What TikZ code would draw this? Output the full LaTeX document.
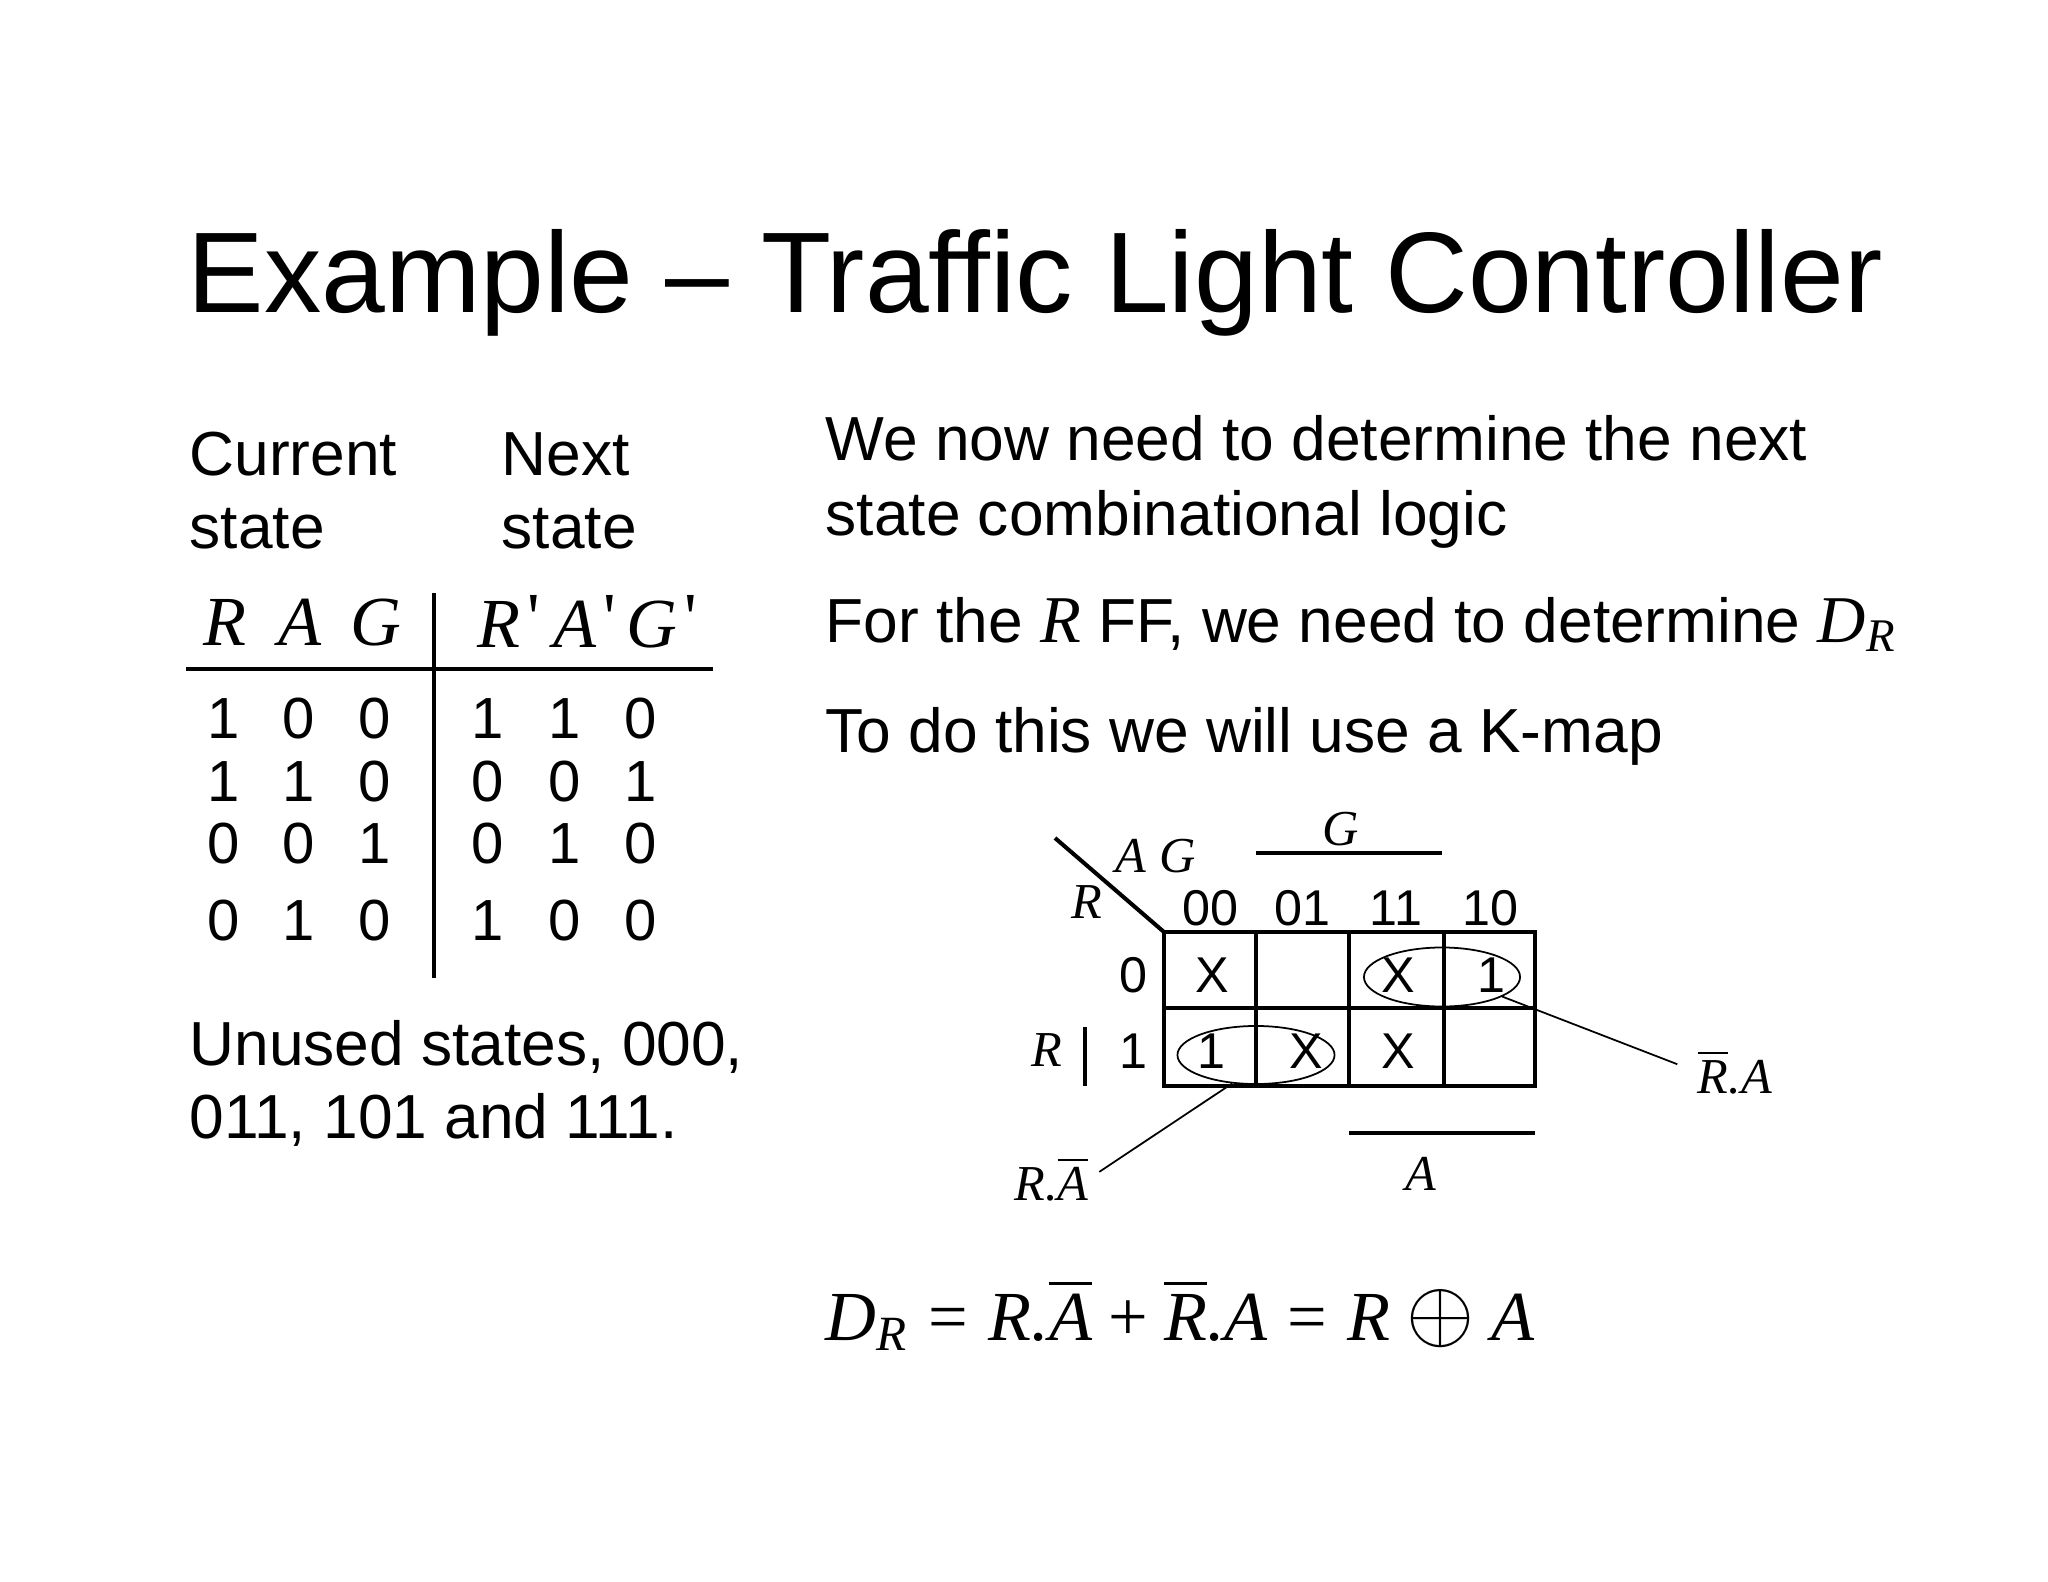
\documentclass[tikz,border=0pt]{standalone}
\usepackage{amsmath}
\usepackage{fontspec}
\setmainfont{Liberation Sans}
\newfontfamily\tms{Liberation Serif}
\usetikzlibrary{shapes.geometric, positioning}

\newcommand{\mi}[1]{\text{\tms\itshape #1}}
\newcommand{\bi}[1]{{\fontsize{19}{20}\selectfont$\mi{#1}$}}
\newcommand{\ov}[1]{\overline{\mi{#1}}}
\newcommand{\tprime}{{\tms\upshape\raisebox{1.6pt}{\textquotesingle}}}
\newcommand{\teq}{\mathrel{\text{\tms =}}}
\newcommand{\tplus}{\mathbin{\text{\tms +}}}
\newcommand{\txor}{\mathbin{\scalebox{1.2}{$\oplus$}}}

\tikzstyle{titletext} = [anchor=base west, inner sep=0pt, font=\fontsize{32.6}{36}\selectfont]
\tikzstyle{body} = [anchor=base west, inner sep=0pt, font=\fontsize{17.7}{20}\selectfont]
\tikzstyle{hdr} = [anchor=base west, inner sep=0pt, font=\fontsize{20}{24}\selectfont\tms\itshape]
\tikzstyle{digit} = [anchor=base, inner sep=0pt, font=\fontsize{16.5}{20}\selectfont]
\tikzstyle{kcell} = [anchor=base, inner sep=0pt, font=\fontsize{14.3}{17}\selectfont]
\tikzstyle{kvar} = [anchor=base, inner sep=0pt, font=\fontsize{14.3}{17}\selectfont\tms\itshape]
\tikzstyle{eqn} = [anchor=base west, inner sep=0pt, font=\fontsize{20}{24}\selectfont]
\tikzstyle{heavy} = [line width=1.15pt]
\tikzstyle{leader} = [line width=0.5pt]
\tikzstyle{group} = [ellipse, draw, line width=0.5pt, inner sep=0pt]

\begin{document}
\begin{tikzpicture}[x=0.01cm, y=-0.01cm]

  \useasboundingbox (0,0) rectangle (2048,1582);

  \node[titletext] (title) at (187,313) {Example – Traffic Light Controller};

  % state table
  \node[body] (cur) at (189,475) {Current};
  \node[body] (curst) at (189,548) {state};
  \node[body] (nxt) at (501,475) {Next};
  \node[body] (nxtst) at (501,548) {state};

  \node[hdr] (hR) at (203,645) {R};
  \node[hdr] (hA) at (278,645) {A};
  \node[hdr] (hG) at (350,645) {G};
  \node[hdr] (hRp) at (477,647) {R\kern2pt\tprime};
  \node[hdr] (hAp) at (553,647) {A\kern2pt\tprime};
  \node[hdr] (hGp) at (626,647) {G\kern2pt\tprime};

  \draw[heavy] (186,669) -- (713,669);
  \draw[heavy] (434,593) -- (434,978);

  \foreach \y/\a/\b/\c/\d/\e/\f in {738/1/0/0/1/1/0, 801/1/1/0/0/0/1,
                                   863/0/0/1/0/1/0, 940/0/1/0/1/0/0} {
    \node[digit] (r\y-1) at (224,\y) {\a};
    \node[digit] (r\y-2) at (299,\y) {\b};
    \node[digit] (r\y-3) at (375,\y) {\c};
    \node[digit] (r\y-4) at (488,\y) {\d};
    \node[digit] (r\y-5) at (565,\y) {\e};
    \node[digit] (r\y-6) at (641,\y) {\f};
  }

  \node[body] (unused) at (189,1065) {Unused states, 000,};
  \node[body] (unused2) at (189,1138) {011, 101 and 111.};

  % right column
  \node[body] (line1) at (825,460) {We now need to determine the next};
  \node[body] (line2) at (825,535) {state combinational logic};
  \node[body] (line3) at (825,642) {For the \bi{R} FF, we need to determine {\fontsize{19}{20}\selectfont$\mi{D}_{\mi{R}}$}};
  \node[body] (line4) at (825,752) {To do this we will use a K-map};

  % K-map
  \draw[heavy] (1055,838) -- (1164,932);
  \node[kvar] (kA) at (1131,872) {A};
  \node[kvar] (kG) at (1178,872) {G};
  \node[kvar] (kR) at (1087,918) {R};

  \node[kcell] (c00) at (1210,925) {00};
  \node[kcell] (c01) at (1302,925) {01};
  \node[kcell] (c11) at (1396,925) {11};
  \node[kcell] (c10) at (1490,925) {10};
  \node[kcell] (row0) at (1133,992) {0};
  \node[kcell] (row1) at (1133,1068) {1};

  \draw[heavy] (1164,932) rectangle (1535,1086);
  \draw[heavy] (1164,1008) -- (1535,1008);
  \draw[heavy] (1256,932) -- (1256,1086);
  \draw[heavy] (1349,932) -- (1349,1086);
  \draw[heavy] (1444,932) -- (1444,1086);

  \node[kcell] (m0) at (1212,992) {X};
  \node[kcell] (m3) at (1398,992) {X};
  \node[kcell] (m2) at (1491,992) {1};
  \node[kcell] (m4) at (1211,1068) {1};
  \node[kcell] (m5) at (1306,1068) {X};
  \node[kcell] (m7) at (1398,1068) {X};

  \draw[heavy] (1256,853) -- (1442,853);
  \node[kvar] (gG) at (1341,845) {G};
  \draw[heavy] (1349,1133) -- (1535,1133);
  \node[kvar] (gA) at (1421,1190) {A};
  \draw[line width=1.4pt] (1085,1027) -- (1085,1086);
  \node[kvar] (gR) at (1047,1066) {R};

  \node[group, minimum width=1.56cm, minimum height=0.59cm] (grpA) at (1442,977) {};
  \node[group, minimum width=1.57cm, minimum height=0.58cm] (grpB) at (1256,1055) {};

  \node[kvar, anchor=base west] (lblNotRA) at (1697,1093) {$\ov{R}\mi{.A}$};
  \node[kvar, anchor=base east] (lblRNotA) at (1089,1200) {$\mi{R.}\ov{A}$};

  \draw[leader, shorten >=6pt] (grpA.-18) -- (lblNotRA.west);
  \draw[leader, shorten >=3.5pt] (grpB.230) -- (lblRNotA.east);

  % result
  \node[eqn] (result) at (825,1340)
    {$\mi{D}_{\mi{R}} \teq \mi{R.}\ov{A} \tplus \ov{R}\mi{.A} \teq \mi{R} \txor \mi{A}$};

\end{tikzpicture}
\end{document}
